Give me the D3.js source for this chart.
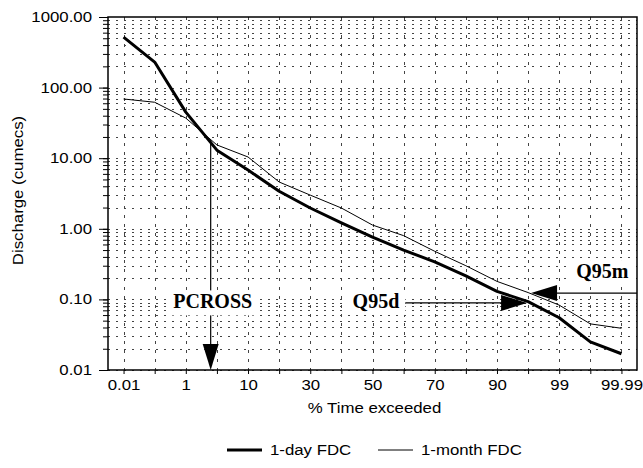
<!DOCTYPE html>
<html>
<head>
<meta charset="UTF-8">
<title>flow duration curves</title>
<script src="https://cdn.jsdelivr.net/npm/d3@7"></script>
<style>
  body { margin: 0; background: #fff; }
</style>
</head>
<body>
<div id="chart"></div>
<script>
// % time exceeded positions (probability axis, evenly spaced)
const pctLabels = ["0.01", "0.1", "1", "5", "10", "20", "30", "40", "50", "60", "70", "80", "90", "95", "99", "99.9", "99.99"];
const xTickLabels = ["0.01", "1", "10", "30", "50", "70", "90", "99", "99.99"];
const yTicks = [0.01, 0.1, 1, 10, 100, 1000];

// discharge (cumecs)
const oneDay = [520, 230, 45, 13, 6.8, 3.4, 1.97, 1.21, 0.76, 0.5, 0.34, 0.215, 0.13, 0.093, 0.055, 0.025, 0.017];
const oneMonth = [69, 62, 37, 15.4, 10.4, 4.6, 3.0, 1.97, 1.13, 0.8, 0.48, 0.3, 0.18, 0.125, 0.083, 0.045, 0.039];

// annotations
const pcross = { pos: 2.8, q: 18 };
const q95d = 0.089;
const q95m = 0.123;

const width = 643, height = 468;
const marginLeft = 108, marginRight = 6, marginTop = 17, marginBottom = 98;
const sans = "'Liberation Sans', Arial, Helvetica, sans-serif";
const serif = "'Liberation Serif', 'Times New Roman', serif";

const x = d3.scalePoint()
  .domain(pctLabels)
  .range([marginLeft, width - marginRight])
  .padding(0.5);

const xPos = p => x(pctLabels[0]) + p * x.step();

const y = d3.scaleLog()
  .domain([0.01, 1000])
  .range([height - marginBottom, marginTop]);

const svg = d3.select("#chart").append("svg")
  .attr("width", width)
  .attr("height", height);

// helvetica in the original is wider than liberation sans
function widen(sel, k) {
  sel.each(function() {
    const l = this.getComputedTextLength();
    d3.select(this).attr("textLength", l * k).attr("lengthAdjust", "spacingAndGlyphs");
  });
}

// grid
const minor = [];
for (let e = -2; e < 3; e++) {
  for (let m = 1; m < 10; m++) minor.push(m * Math.pow(10, e));
}
svg.append("g")
  .selectAll("line")
  .data(minor)
  .join("line")
  .attr("x1", marginLeft)
  .attr("x2", width - marginRight)
  .attr("y1", d => Math.round(y(d)) + 0.5)
  .attr("y2", d => Math.round(y(d)) + 0.5)
  .attr("stroke", "#444")
  .attr("stroke-dasharray", "2,6");

svg.append("g")
  .selectAll("line")
  .data(pctLabels)
  .join("line")
  .attr("x1", d => Math.round(x(d)) + 0.5)
  .attr("x2", d => Math.round(x(d)) + 0.5)
  .attr("y1", marginTop)
  .attr("y2", height - marginBottom)
  .attr("stroke", "#444")
  .attr("stroke-dasharray", "3,6");

// axes
const yAxisMinor = d3.axisLeft(y).tickValues(minor).tickSize(5).tickFormat("");
svg.append("g")
  .attr("transform", "translate(" + marginLeft + ",0)")
  .call(yAxisMinor)
  .call(g => g.select(".domain").remove());

const yAxis = d3.axisLeft(y).tickValues(yTicks).tickSize(9).tickPadding(7).tickFormat(d3.format(".2f"));
svg.append("g")
  .attr("transform", "translate(" + marginLeft + ",0)")
  .call(yAxis)
  .call(g => g.select(".domain").remove())
  .call(g => g.selectAll("text").attr("font-family", sans).attr("font-size", 14).attr("fill", "#000").call(widen, 1.2));

const xAxis = d3.axisBottom(x).tickSize(4).tickPadding(6)
  .tickFormat(d => xTickLabels.includes(d) ? d : "");
svg.append("g")
  .attr("transform", "translate(0," + (height - marginBottom) + ")")
  .call(xAxis)
  .call(g => g.select(".domain").remove())
  .call(g => g.selectAll("text").filter(d => xTickLabels.includes(d))
    .attr("font-family", sans).attr("font-size", 14).attr("fill", "#000").call(widen, 1.2));

// frame
svg.append("rect")
  .attr("x", marginLeft)
  .attr("y", marginTop)
  .attr("width", width - marginLeft - marginRight)
  .attr("height", height - marginTop - marginBottom)
  .attr("fill", "none")
  .attr("stroke", "#000")
  .attr("stroke-width", 1.5);

// curves
const line = d3.line()
  .x((d, i) => x(pctLabels[i]))
  .y(d => y(d));

svg.append("path")
  .datum(oneMonth)
  .attr("d", line)
  .attr("fill", "none")
  .attr("stroke", "#000")
  .attr("stroke-width", 1);

svg.append("path")
  .datum(oneDay)
  .attr("d", line)
  .attr("fill", "none")
  .attr("stroke", "#000")
  .attr("stroke-width", 3)
  .attr("stroke-linejoin", "round");

// annotations
function arrowHead(tipX, tipY, dir) {
  const len = 26, half = 8;
  let pts;
  if (dir === "down") pts = [[tipX, tipY], [tipX - half, tipY - len], [tipX + half, tipY - len]];
  if (dir === "right") pts = [[tipX, tipY], [tipX - len, tipY - half], [tipX - len, tipY + half]];
  if (dir === "left") pts = [[tipX, tipY], [tipX + len, tipY - half], [tipX + len, tipY + half]];
  svg.append("polygon").attr("points", pts.map(p => p.join(",")).join(" ")).attr("fill", "#000");
}

function label(txt, tx, ty, anchor) {
  const g = svg.append("g");
  const rect = g.append("rect").attr("fill", "#fff");
  const t = g.append("text")
    .attr("x", tx)
    .attr("y", ty)
    .attr("text-anchor", anchor)
    .attr("font-family", serif)
    .attr("font-weight", "bold")
    .attr("font-size", 20)
    .text(txt);
  const b = t.node().getBBox();
  rect.attr("x", b.x - 6).attr("y", b.y).attr("width", b.width + 12).attr("height", b.height + 3);
}

// PCROSS
const px = xPos(pcross.pos);
svg.append("line")
  .attr("x1", px).attr("x2", px)
  .attr("y1", y(pcross.q)).attr("y2", height - marginBottom - 20)
  .attr("stroke", "#000").attr("stroke-width", 1.2);
arrowHead(px, height - marginBottom, "down");
label("PCROSS", px + 2, y(0.1) + 9, "middle");

// Q95d
const x95 = x("95");
svg.append("line")
  .attr("x1", x("70") - 30).attr("x2", x95 - 20)
  .attr("y1", y(q95d)).attr("y2", y(q95d))
  .attr("stroke", "#000").attr("stroke-width", 1.2);
arrowHead(x95 - 1, y(q95d), "right");
label("Q95d", x("60") - 51, y(q95d) + 5, "start");

// Q95m
svg.append("line")
  .attr("x1", x95 + 20).attr("x2", width - marginRight)
  .attr("y1", y(q95m)).attr("y2", y(q95m))
  .attr("stroke", "#000").attr("stroke-width", 1.2);
arrowHead(x95 + 3, y(q95m), "left");
label("Q95m", x("99.9") - 14, y(q95m) - 15, "start");

// axis titles
svg.append("text")
  .attr("x", (marginLeft + width - marginRight) / 2 + 2)
  .attr("y", height - marginBottom + 43)
  .attr("text-anchor", "middle")
  .attr("font-family", sans)
  .attr("font-size", 14)
  .text("% Time exceeded")
  .call(widen, 1.2);

svg.append("text")
  .attr("transform", "translate(23," + ((marginTop + height - marginBottom) / 2 - 3) + ") rotate(-90)")
  .attr("text-anchor", "middle")
  .attr("font-family", sans)
  .attr("font-size", 14)
  .text("Discharge (cumecs)")
  .call(widen, 1.2);

// legend
const legend = [
  { name: "1-day FDC", w: 3, lx: 227 },
  { name: "1-month FDC", w: 1, lx: 378 }
];
const lg = svg.append("g").selectAll("g").data(legend).join("g")
  .attr("transform", d => "translate(" + d.lx + ",450)");
lg.append("line")
  .attr("x1", 0).attr("x2", 35)
  .attr("stroke", "#000")
  .attr("stroke-width", d => d.w);
lg.append("text")
  .attr("x", 43)
  .attr("y", 5)
  .attr("font-family", sans)
  .attr("font-size", 14)
  .text(d => d.name)
  .call(widen, 1.2);
</script>
</body>
</html>
